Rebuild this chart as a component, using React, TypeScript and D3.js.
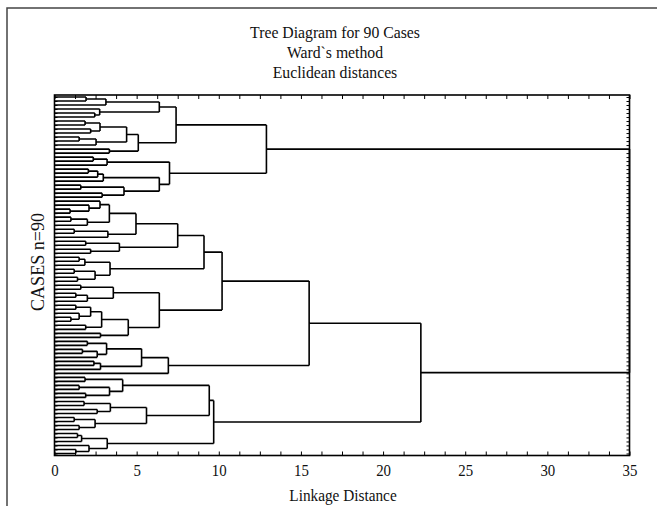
import * as d3 from 'd3';
import { useEffect, useRef } from 'react';

// a node is either a case index (0..89, top to bottom) or [left, right, linkage distance]
type Node = number | [Node, Node, number];

const clusterA1: Node = [
  [[[0, 1, 1.92], 2, 3.13], [3, [4, 5, 2.45], 2.75], 6.38],
  [[[[6, 7, 1.86], [8, 9, 2.2], 2.77], [[10, 11, 1.5], 12, 2.53], 4.39], [13, 14, 3.34], 5.1],
  7.4,
];
const clusterA2: Node = [
  [[15, 16, 2.36], 17, 3.2],
  [[[[18, 19, 2.06], 20, 2.63], 21, 2.97], [[22, 23, 1.6], [24, 25, 2.9], 4.23], 6.38],
  7.0,
];
const clusterB1Upper: Node = [
  [
    [[[26, [27, [28, 29, 0.95], 2.1], 2.77], [[30, 31, 1.0], 32, 2.0], 3.34], [[33, 34, 1.2], 35, 3.25], 4.96],
    [[36, 37, 1.9], [38, 39, 2.2], 3.95],
    7.5,
  ],
  [[[40, 41, 1.5], 42, 1.85], [[43, 44, 1.2], [45, 46, 1.4], 2.47], 3.38],
  9.1,
];
const clusterB1Middle: Node = [
  [[47, 48, 1.6], [[49, 50, 1.3], 51, 2.0], 3.58],
  [[[[52, 53, 1.3], [54, [55, 56, 1.0], 1.5], 2.2], [57, 58, 1.9], 2.87], [59, 60, 2.8], 4.49],
  6.38,
];
const clusterB1Lower: Node = [
  [[[61, 62, 2.0], [[63, 64, 1.7], 65, 2.6], 3.17], [[66, 67, 2.4], 68, 2.8], 5.3],
  69,
  6.93,
];
const clusterB2Upper: Node = [
  [[70, 71, 1.86], [[72, 73, 1.5], [74, 75, 1.9], 3.35], 4.15],
  [[[76, 77, 1.8], [78, 79, 2.6], 3.4], [[80, 81, 1.2], [82, 83, 1.5], 2.47], 5.6],
  9.42,
];
const clusterB2Lower: Node = [[[84, 85, 1.4], 86, 1.65], [87, [88, 89, 1.3], 2.1], 3.21];

const tree: Node = [
  [clusterA1, clusterA2, 12.9],
  [[[clusterB1Upper, clusterB1Middle, 10.2], clusterB1Lower, 15.5], [clusterB2Upper, clusterB2Lower, 9.69], 22.3],
  35,
];

const majorTicks = [0, 5, 10, 15, 20, 25, 30, 35];
const titleLines = ['Tree Diagram for 90 Cases', 'Ward`s method', 'Euclidean distances'];
const yTitle = 'CASES n=90';
const xTitle = 'Linkage Distance';

const FONT = "'Liberation Serif', 'Times New Roman', serif";

const App = () => {
  const ref = useRef<SVGSVGElement>(null);

  useEffect(() => {
    const svg = d3.select(ref.current);
    svg.selectAll('*').remove();

    const left = 54.5, right = 629.5, top = 95, bottom = 455.5;
    const x = d3.scaleLinear().domain([0, 35]).range([left, right]);

    const root = d3.hierarchy<Node>(tree, (d: any) => (Array.isArray(d) ? [d[0], d[1]] : null));
    const leafIds = root.leaves().map((l) => l.data as number);
    const y = d3.scalePoint<number>().domain(leafIds).range([top, bottom]).padding(0.5);

    const dist = (n: any) => (Array.isArray(n.data) ? n.data[2] : 0);
    const yPos = new Map<any, number>();
    root.eachAfter((n: any) => {
      yPos.set(n, n.children ? d3.mean(n.children, (c: any) => yPos.get(c)) : y(n.data));
    });

    // outer border of the picture
    svg.append('path')
      .attr('d', 'M7,506V8H657')
      .attr('fill', 'none')
      .attr('stroke', '#444')
      .attr('stroke-width', 1.5);

    // titles
    titleLines.forEach((t, i) => {
      svg.append('g')
        .attr('transform', `translate(335,${38 + i * 19.8}) scale(0.9,1)`)
        .append('text')
        .attr('text-anchor', 'middle')
        .attr('font-family', FONT)
        .attr('font-size', 17.5)
        .attr('fill', '#111')
        .text(t);
    });

    // dendrogram
    const p = d3.path();
    root.each((n: any) => {
      if (!n.children) return;
      const xh = x(dist(n));
      const [c0, c1] = n.children;
      p.moveTo(xh, yPos.get(c0)!);
      p.lineTo(xh, yPos.get(c1)!);
      n.children.forEach((c: any) => {
        p.moveTo(x(dist(c)), yPos.get(c)!);
        p.lineTo(xh, yPos.get(c)!);
      });
    });
    svg.append('path')
      .attr('d', p.toString())
      .attr('fill', 'none')
      .attr('stroke', '#000')
      .attr('stroke-width', 1.6);

    // axes
    const styleAxis = (g: any) => {
      g.select('.domain').remove();
      g.selectAll('line').attr('stroke', '#000');
      g.attr('font-family', FONT).attr('font-size', 16.5);
      g.selectAll('text').attr('fill', '#111').attr('transform', 'scale(0.9,1)');
    };
    const minor = d3.range(0, 35.001, 1.25);
    svg.append('g')
      .attr('transform', `translate(0,${bottom})`)
      .call(d3.axisBottom(x).tickValues(minor).tickSize(-4).tickSizeOuter(0).tickPadding(9)
        .tickFormat((d: any) => (majorTicks.includes(+d) ? String(d) : '')))
      .call(styleAxis);
    svg.append('g')
      .attr('transform', `translate(0,${top})`)
      .call(d3.axisTop(x).tickValues(minor).tickSize(-4).tickSizeOuter(0).tickFormat(() => ''))
      .call(styleAxis);
    svg.append('g')
      .attr('transform', `translate(${right},0)`)
      .call(d3.axisRight(y).tickSize(-3).tickSizeOuter(0).tickFormat(() => ''))
      .call(styleAxis);
    svg.append('g')
      .attr('transform', `translate(${left},0)`)
      .call(d3.axisLeft(y).tickSize(-3).tickSizeOuter(0).tickFormat(() => ''))
      .call(styleAxis);

    // frame
    svg.append('rect')
      .attr('x', left).attr('y', top)
      .attr('width', right - left).attr('height', bottom - top)
      .attr('fill', 'none')
      .attr('stroke', '#000')
      .attr('stroke-width', 1.6);

    // axis titles
    svg.append('g')
      .attr('transform', `translate(44,262) rotate(-90) scale(0.95,1)`)
      .append('text')
      .attr('text-anchor', 'middle')
      .attr('font-family', FONT)
      .attr('font-size', 19)
      .attr('fill', '#111')
      .text(yTitle);
    svg.append('g')
      .attr('transform', `translate(343,501) scale(0.9,1)`)
      .append('text')
      .attr('text-anchor', 'middle')
      .attr('font-family', FONT)
      .attr('font-size', 17)
      .attr('fill', '#111')
      .text(xTitle);
  }, []);

  return (
    <svg
      ref={ref}
      width={657}
      height={506}
      style={{ position: 'absolute', left: 0, top: 0, background: '#fff' }}
    />
  );
};

export default App;
